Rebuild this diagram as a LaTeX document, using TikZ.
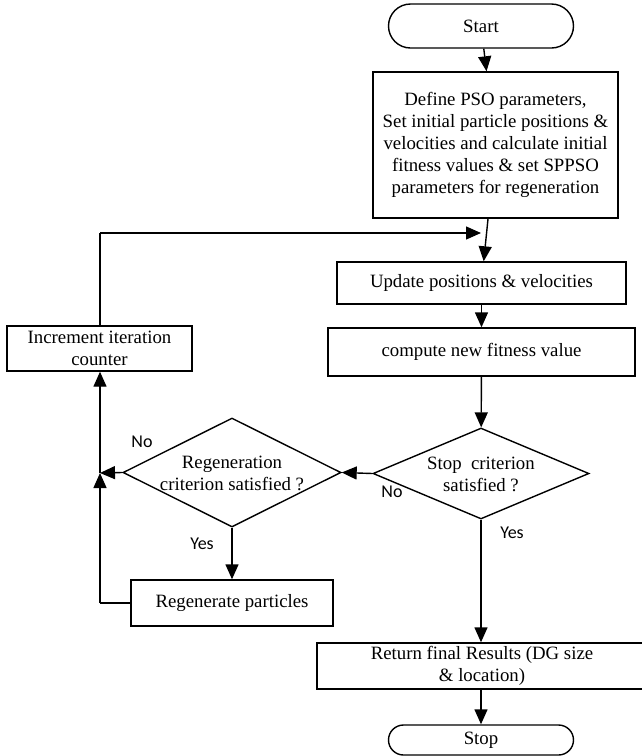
\documentclass[tikz,border=0pt]{standalone}
\usepackage{fontspec}
\setmainfont{Liberation Serif}
\newfontfamily\lblfont{Carlito}
\usetikzlibrary{shapes.geometric,shapes.misc,arrows.meta}
\begin{document}
\begin{tikzpicture}[x=1pt,y=-1pt,
  every node/.style={font=\fontsize{18.8}{22}\selectfont},
  conn/.style={line width=1.4pt,-{Triangle[length=15pt,width=13pt]}},
  plain/.style={line width=1.4pt},
  procbox/.style={draw,line width=1.4pt,rectangle,inner sep=0pt,align=center},
  term/.style={draw,line width=1.4pt,rounded rectangle,inner sep=0pt},
  decision/.style={draw,line width=1.4pt,diamond,inner sep=0pt},
  lbl/.style={font=\lblfont\fontsize{18}{20}\selectfont,inner sep=0pt}
]
\useasboundingbox (0,0) rectangle (642,756);
\node[term,minimum width=185pt,minimum height=44pt] (start) at (481,26) {Start};
\node[procbox,minimum width=245pt,minimum height=146pt] (define) at (495.5,145)
  {Define PSO parameters,\\Set initial particle positions \&\\velocities and calculate initial\\fitness values \& set SPPSO\\parameters for regeneration};
\node[procbox,minimum width=289pt,minimum height=42pt] (update) at (481.5,283) {Update positions \& velocities};
\node[procbox,minimum width=307pt,minimum height=48pt] (compute) at (481.5,352) {compute new fitness value};
\node[decision,minimum width=216pt,minimum height=91pt] (stopd) at (481,473.5) {};
\node[align=center] (stopdt) at (481,474) {Stop~~criterion\\satisfied ?};
\node[decision,minimum width=218pt,minimum height=109pt] (regd) at (232,472.5) {};
\node[align=center] (regdt) at (232,473) {Regeneration\\criterion satisfied ?};
\node[procbox,minimum width=185pt,minimum height=45pt] (incr) at (99.5,348.5) {Increment iteration\\counter};
\node[procbox,minimum width=202pt,minimum height=46pt] (regbox) at (232,603) {Regenerate particles};
\node[procbox,minimum width=330pt,minimum height=46pt] (ret) at (482,666) {Return final Results (DG size\\\& location)};
\node[term,minimum width=185pt,minimum height=30pt] (stopt) at (481,740) {Stop};
\coordinate (junc) at (100,473);
\coordinate (loopc) at (100,233);
\coordinate (loopin) at (481,233);
\coordinate (regc) at (100,603);
\draw[conn] (start) -- (define);
\draw[conn] (define) -- (update);
\draw[plain] (incr.north -| loopc) -- (loopc);
\draw[conn] (loopc) -- (loopin);
\draw[conn] (update) -- (compute);
\draw[conn] (compute) -- (stopd);
\draw[conn] (stopd.west) -- (regd.east);
\draw[conn] (regd.west) -- (junc);
\draw[conn] (regd.south) -- (regbox.north);
\draw[plain] (regbox.west) -- (regc);
\draw[conn] (regc) -- (junc);
\draw[conn] (junc) -- (incr.south -| junc);
\draw[conn] (stopd.south) -- (ret.north -| stopd.south);
\draw[conn] (ret.south -| stopt.north) -- (stopt.north);
\node[lbl] (no1) at (392,492) {No};
\node[lbl] (no2) at (142,442) {No};
\node[lbl] (yes1) at (202,544) {Yes};
\node[lbl] (yes2) at (512,533) {Yes};
\end{tikzpicture}
\end{document}
